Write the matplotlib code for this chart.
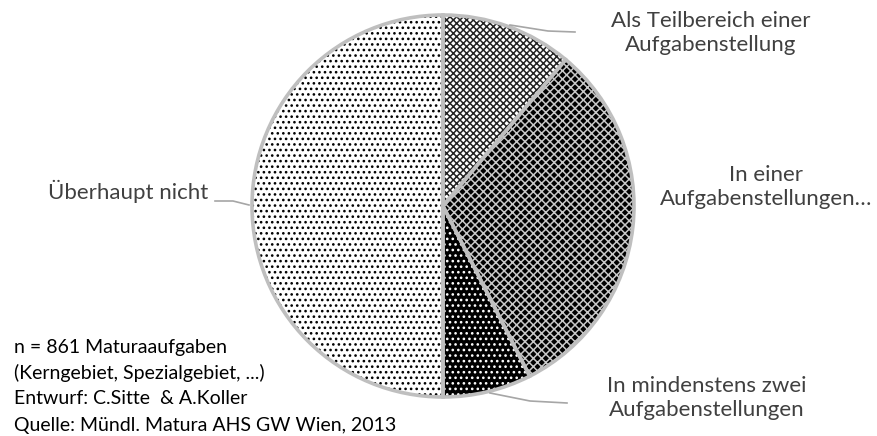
import numpy as np
import matplotlib
matplotlib.use("Agg")
from matplotlib import pyplot as plt

# data: share of Matura tasks (percent), clockwise from 12 o'clock
labels = ["Als Teilbereich einer\nAufgabenstellung",
          "In einer\nAufgabenstellungen…",
          "In mindenstens zwei\nAufgabenstellungen",
          "Überhaupt nicht"]
shares = [11.1, 31.4, 7.5, 50.0]

notes = ["n = 861 Maturaaufgaben",
         "(Kerngebiet, Spezialgebiet, ...)",
         "Entwurf: C.Sitte  & A.Koller",
         "Quelle: Mündl. Matura AHS GW Wien, 2013"]

# fill patterns (face, hatch, hatch colour)
faces = ["white", "black", "black", "white"]
hatches = ["xxxxx", "xxxx", "...", "..."]
hatch_cols = ["#222222", "#c8c8c8", "white", "black"]

W, H = 878, 436
plt.rcParams['font.family'] = ['Lato', 'DejaVu Sans']
plt.rcParams['hatch.linewidth'] = 1.1

fig = plt.figure(figsize=(W/100, H/100), dpi=100)
ax = fig.add_axes([0, 0, 1, 1])

cx, cy, r = 443, H-206, 191

#pattern layer
wedges, _ = ax.pie(shares, center=(cx, cy), radius=r, startangle=90,
                   counterclock=False, colors=faces)
for w, h, hc in zip(wedges, hatches, hatch_cols):
    w.set_hatch(h)
    w.set_edgecolor(hc)
    w.set_linewidth(0)

#outline layer
ax.pie(shares, center=(cx, cy), radius=r, startangle=90, counterclock=False,
       colors=["none"]*4, wedgeprops=dict(edgecolor="#bfbfbf", linewidth=2.6))

ax.set_xlim(0, W)
ax.set_ylim(0, H)
ax.set_aspect("equal")
ax.axis("off")

lab_col = "#404040"
fs = 16
ls = 1.3
ax.text(711, H-33, labels[0], ha="center", va="center", color=lab_col, fontsize=fs, linespacing=ls)
ax.text(766, H-187, labels[1], ha="center", va="center", color=lab_col, fontsize=fs, linespacing=ls)
ax.text(707, H-398, labels[2], ha="center", va="center", color=lab_col, fontsize=fs, linespacing=ls)
ax.text(208, H-191, labels[3], ha="right", va="center", color=lab_col, fontsize=fs)

#leader lines
lc = "#a6a6a6"
ax.plot([510, 548, 575], [H-25, H-31, H-32], color=lc, lw=1.2)
ax.plot([490, 530, 567], [H-393, H-401, H-403], color=lc, lw=1.2)
ax.plot([215, 233, 249], [H-201, H-201, H-205], color=lc, lw=1.2)

for i, s in enumerate(notes):
    ax.text(14, H-347-26*i, s, ha="left", va="center", color="black", fontsize=14)

fig.savefig("out.png", dpi=100)
